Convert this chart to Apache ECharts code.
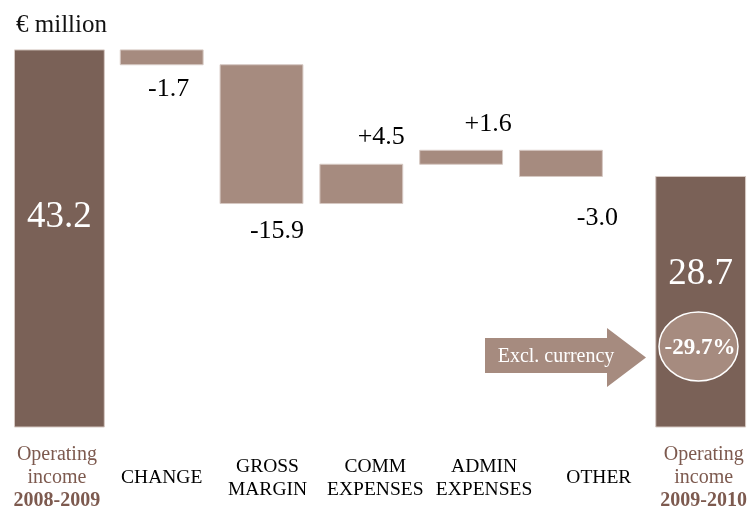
<!DOCTYPE html>
<html>
<head>
<meta charset="utf-8">
<script src="https://cdn.jsdelivr.net/npm/echarts@6/dist/echarts.min.js"></script>
<style>
  html, body { margin: 0; padding: 0; background: #ffffff; }
  #chart { width: 750px; height: 511px; }
</style>
</head>
<body>
<div id="chart"></div>
<script>
// Operating income bridge, 2008-2009 to 2009-2010 (€ million)
const categories = [
  'Operating\nincome\n2008-2009',
  'CHANGE',
  'GROSS\nMARGIN',
  'COMM\nEXPENSES',
  'ADMIN\nEXPENSES',
  'OTHER',
  'Operating\nincome\n2009-2010'
];
const openingIncome = 43.2;
const changeValues = [-1.7, -15.9, 4.5, 1.6, -3.0];
const closingIncome = 28.7;
const exclCurrencyChange = '-29.7%';
const unitLabel = '€ million';
const arrowLabel = 'Excl. currency';

// Layout (x positions in slot units along the hidden value axis)
const barSlots = [-0.025, 1, 2, 3, 4, 5, 6.4];
const nameSlots = [-0.05, 1.0, 2.06, 3.14, 4.23, 5.38, 6.43];
const deltaLabelSlots = [1.07, 2.155, 3.2, 4.27, 5.365];
const deltaLabelGap = [24, 28, 27, 26, 42];
const totalLabelShift = [-21, -27];

const FONT = '"Liberation Serif", "Times New Roman", serif';
const DARK = '#7a6157';
const LIGHT = '#a68b7f';
const BROWN_TEXT = '#7d5a4f';

// Waterfall rows: [slot, low, high, kind (0 open, 1 change, 2 close), index]
const rows = [];
let level = openingIncome;
rows.push([barSlots[0], 0, openingIncome, 0, 0]);
changeValues.forEach((v, k) => {
  const next = Math.round((level + v) * 10) / 10;
  rows.push([barSlots[k + 1], Math.min(level, next), Math.max(level, next), 1, k]);
  level = next;
});
rows.push([barSlots[6], 0, closingIncome, 2, 1]);

const fmtDelta = v => (v > 0 ? '+' : '') + v.toFixed(1);

function renderItem(params, api) {
  const x = api.value(0), lo = api.value(1), hi = api.value(2);
  const kind = api.value(3), k = api.value(4);
  const w = kind === 1 ? 0.83 : 0.9;
  const p0 = api.coord([x - w / 2, hi]);
  const p1 = api.coord([x + w / 2, lo]);
  const children = [{
    type: 'rect',
    shape: { x: p0[0], y: p0[1], width: p1[0] - p0[0], height: p1[1] - p0[1] },
    style: { fill: kind === 1 ? LIGHT : DARK, stroke: '#d6c9c3', lineWidth: 1 }
  }];
  if (kind === 1) {
    const v = changeValues[k];
    const anchor = api.coord([deltaLabelSlots[k], v < 0 ? lo : hi]);
    children.push({
      type: 'text',
      x: anchor[0],
      y: anchor[1] + (v < 0 ? deltaLabelGap[k] : -deltaLabelGap[k]),
      style: {
        text: fmtDelta(v), fill: '#000', font: '26px ' + FONT,
        align: 'center', verticalAlign: 'middle'
      }
    });
  } else {
    const shift = totalLabelShift[kind === 0 ? 0 : 1];
    children.push({
      type: 'text',
      x: (p0[0] + p1[0]) / 2,
      y: (p0[1] + p1[1]) / 2 + shift,
      style: {
        text: hi.toFixed(1), fill: '#ffffff', font: '37px ' + FONT,
        align: 'center', verticalAlign: 'middle'
      }
    });
  }
  return { type: 'group', children };
}

function categoryFor(value) {
  let best = 0;
  nameSlots.forEach((s, i) => {
    if (Math.abs(s - value) < Math.abs(nameSlots[best] - value)) best = i;
  });
  return best;
}

const chart = echarts.init(document.getElementById('chart'), null, { renderer: 'canvas' });
chart.setOption({
  animation: false,
  backgroundColor: '#ffffff',
  title: {
    text: unitLabel,
    left: 11,
    top: 8,
    textStyle: { fontFamily: FONT, fontSize: 25, fontWeight: 'normal', color: '#111' }
  },
  grid: { left: 0, right: 0, top: 8, bottom: 84 },
  xAxis: {
    type: 'value',
    min: -0.62,
    max: 6.88,
    axisLine: { show: false },
    axisTick: { show: false },
    splitLine: { show: false },
    axisLabel: {
      customValues: nameSlots,
      margin: 51,
      verticalAlign: 'middle',
      align: 'center',
      hideOverlap: false,
      formatter: value => {
        const i = categoryFor(value);
        const lines = categories[i].split('\n');
        if (i === 0 || i === categories.length - 1) {
          return '{tot|' + lines[0] + '}\n{tot|' + lines[1] + '}\n{yr|' + lines[2] + '}';
        }
        return lines.map(l => '{cat|' + l + '}').join('\n');
      },
      rich: {
        tot: { fontFamily: FONT, fontSize: 20, lineHeight: 23, color: BROWN_TEXT },
        yr: { fontFamily: FONT, fontSize: 20, lineHeight: 23, fontWeight: 'bold', color: BROWN_TEXT },
        cat: { fontFamily: FONT, fontSize: 19.5, lineHeight: 23, color: '#000' }
      }
    }
  },
  yAxis: {
    type: 'value',
    min: 0,
    max: 48,
    show: false
  },
  series: [{
    type: 'custom',
    renderItem,
    encode: { x: 0, y: [1, 2] },
    data: rows,
    silent: true
  }],
  graphic: [
    {
      type: 'polygon',
      z: 100,
      shape: { points: [[485, 338], [607, 338], [607, 328], [646, 357.5], [607, 387], [607, 373], [485, 373]] },
      style: { fill: LIGHT }
    },
    {
      type: 'text',
      z: 101,
      x: 556,
      y: 357,
      style: { text: arrowLabel, fill: '#ffffff', font: '20px ' + FONT, align: 'center', verticalAlign: 'middle' }
    },
    {
      type: 'ellipse',
      z: 100,
      shape: { cx: 698.5, cy: 346.5, rx: 39.5, ry: 34.5 },
      style: { fill: LIGHT, stroke: '#ffffff', lineWidth: 1.5 }
    },
    {
      type: 'text',
      z: 101,
      x: 700,
      y: 348,
      style: { text: exclCurrencyChange, fill: '#ffffff', font: 'bold 23px ' + FONT, align: 'center', verticalAlign: 'middle' }
    }
  ]
});
</script>
</body>
</html>
